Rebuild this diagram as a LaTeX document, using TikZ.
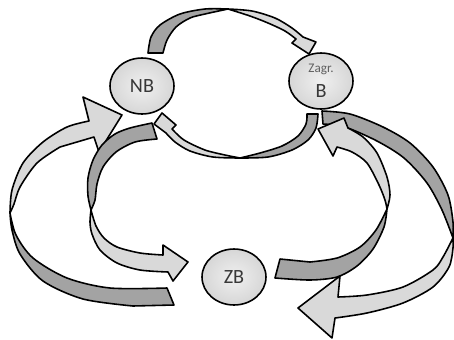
\documentclass[tikz,border=0pt]{standalone}
\usepackage{fontspec}
\setmainfont{Carlito}
\usetikzlibrary{shapes.geometric}
\definecolor{facelight}{gray}{0.85}
\definecolor{facedark}{gray}{0.64}
\definecolor{labelgray}{gray}{0.22}

\begin{document}
\begin{tikzpicture}[x=0.02cm, y=-0.02cm,
        state/.style={ellipse, draw, line width=0.9pt, inner color=gray!12, outer color=gray!32,
            minimum width=1.28cm, minimum height=1.12cm, inner sep=0pt, text=labelgray,
            font=\fontsize{11.5}{13}\selectfont},
        lightside/.style={draw, fill=facelight, line width=0.9pt, line join=round},
        darkside/.style={draw, fill=facedark, line width=0.9pt, line join=round}]
        \useasboundingbox (0,0) rectangle (454,339);

        % twist points of the ribbons
        \coordinate (twA) at (10,213);
        \coordinate (twB) at (91,210);
        \coordinate (twC) at (228,9);
        \coordinate (twD) at (240,158);
        \coordinate (twE) at (387,209);
        \coordinate (twF) at (453,238);

        % left outer: ZB -> NB
        \draw[lightside] plot[smooth] coordinates {(twA) (12,190) (23,163) (43,142) (67,127) (89,121)}
            -- (83,97) -- (122,115) -- (99,152) -- (94,137)
            -- plot[smooth] coordinates {(60,147) (37,163) (20,187) (14,204) (twA)} -- cycle;
        \draw[darkside] plot[smooth] coordinates {(twA) (16,235) (33,258) (67,278) (110,288) (167,288)}
            -- (174,305)
            -- plot[smooth] coordinates {(133,306) (83,299) (43,281) (20,254) (12,230) (twA)} -- cycle;

        % left inner: NB -> ZB
        \draw[darkside] plot[smooth] coordinates {(152,123) (130,128) (115,134) (102,145) (93,160) (88,178) (88,196) (twB)}
            -- plot[smooth] coordinates {(twB) (95,200) (97,184) (103,167) (116,152) (135,142) (157,139)} -- cycle;
        \draw[lightside] plot[smooth] coordinates {(twB) (96,226) (104,238) (117,247) (140,253) (163,255)}
            -- (163,245) -- (188,262) -- (173,281)
            -- plot[smooth] coordinates {(168,272) (140,270) (117,263) (100,250) (92,234) (90,222) (twB)} -- cycle;

        % top: NB -> B
        \draw[darkside] plot[smooth] coordinates {(148,53) (151,37) (160,25) (180,14) (205,9) (twC)}
            -- plot[smooth] coordinates {(twC) (205,14) (190,18) (176,27) (167,40) (163,53)} -- cycle;
        \draw[lightside] plot[smooth] coordinates {(twC) (252,11) (275,18) (292,28) (303,37)}
            -- (316,42) -- (309,54) -- (292,43)
            -- plot[smooth] coordinates {(296,39) (285,31) (268,23) (250,16) (twC)} -- cycle;

        % bottom: B -> NB
        \draw[darkside] plot[smooth] coordinates {(318,114) (316,128) (308,140) (292,150) (268,157) (twD)}
            -- plot[smooth] coordinates {(twD) (260,153) (282,146) (298,136) (306,124) (307,114)} -- cycle;
        \draw[lightside] plot[smooth] coordinates {(twD) (213,157) (190,151) (175,142) (166,133)}
            -- (154,124) -- (162,113) -- (176,125)
            -- plot[smooth] coordinates {(172,129) (184,140) (205,150) (225,155) (twD)} -- cycle;

        % right outer: B -> ZB
        \draw[darkside] plot[smooth] coordinates {(322,111) (350,114) (383,127) (410,143) (433,167) (448,195) (453,222) (twF)}
            -- plot[smooth] coordinates {(twF) (442,210) (427,183) (404,158) (377,141) (345,127) (323,124)} -- cycle;

        % right inner: ZB -> B
        \draw[darkside] plot[smooth] coordinates {(twE) (384,227) (373,249) (357,266) (337,277) (310,280) (275,278)}
            -- (280,259)
            -- plot[smooth] coordinates {(310,262) (337,258) (360,247) (376,230) (twE)} -- cycle;

        \draw[lightside] plot[smooth] coordinates {(twF) (443,257) (433,270) (403,287) (367,295) (338,297)}
            -- (340,276) -- (298,308) -- (332,338)
            -- plot[smooth] coordinates {(335,318) (367,313) (403,303) (433,287) (449,267) (453,248) (twF)} -- cycle;
        \draw[lightside] plot[smooth] coordinates {(twE) (390,195) (387,177) (377,153) (363,137) (348,128)}
            -- (344,118) -- (318,129) -- (333,156)
            -- plot[smooth] coordinates {(337,147) (352,152) (367,163) (379,185) (385,200) (twE)} -- cycle;

        \node[state] (nb) at (142,86) {NB};
        \node[state, align=center] (b) at (321,81) {{\fontsize{7.5}{8}\selectfont\color{gray!75!black}Zagr.}\\[1pt]B};
        \node[state] (zb) at (234,277) {ZB};
    \end{tikzpicture}
\end{document}
